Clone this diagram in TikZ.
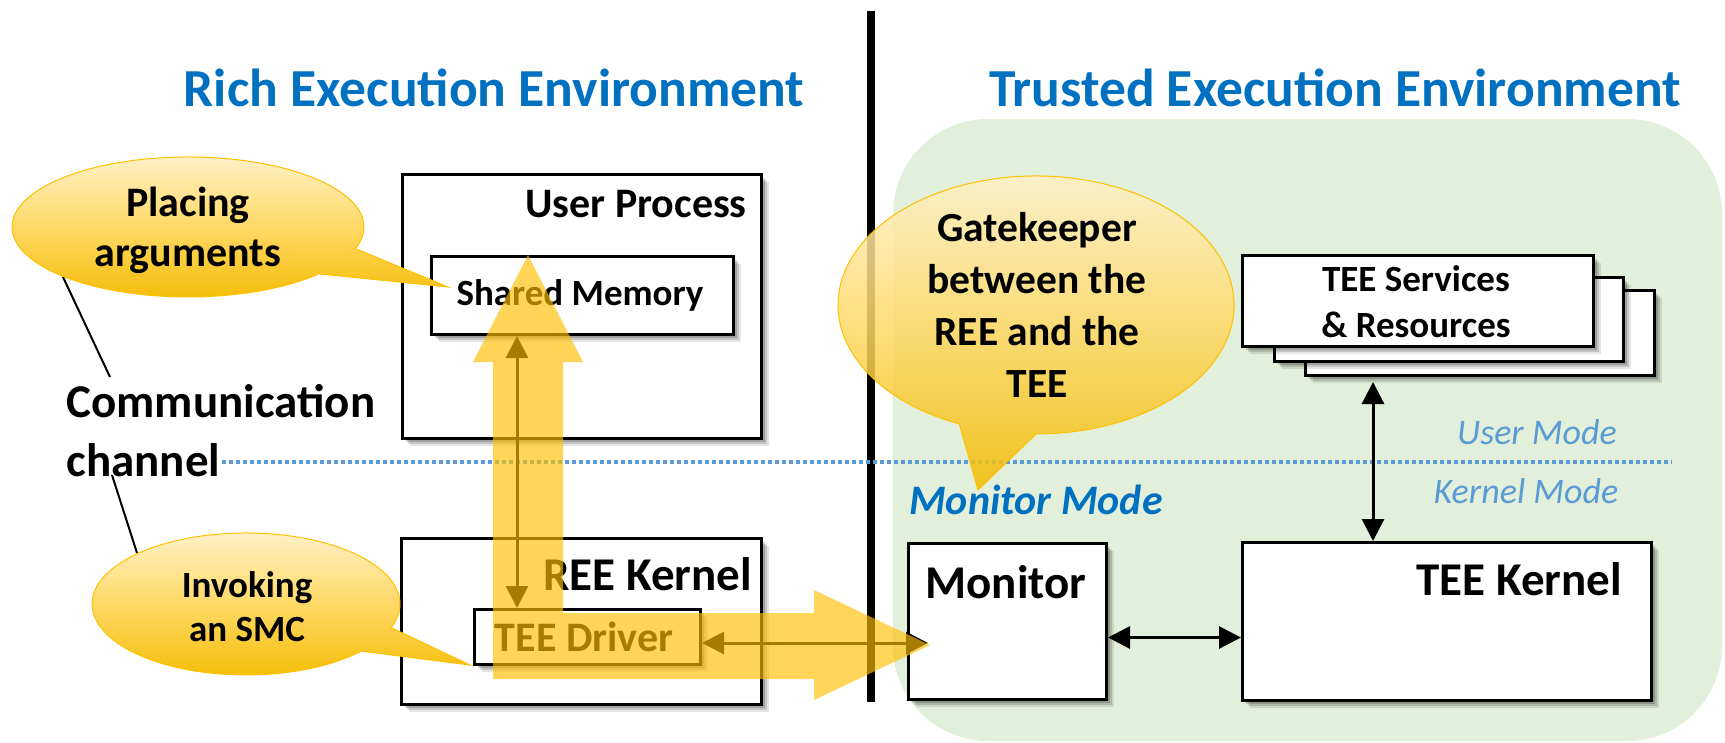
\documentclass[tikz,border=0pt]{standalone}
\usepackage{fontspec}
\setmainfont{Carlito}
\usetikzlibrary{arrows.meta,shadows}
\definecolor{titleblue}{HTML}{0070C0}
\definecolor{modeblue}{HTML}{5B9BD5}
\definecolor{teegreen}{HTML}{E2EFDA}
\definecolor{gold}{HTML}{FFC000}
\definecolor{calltop}{HTML}{FFF3D0}
\definecolor{callmid}{HTML}{FFD966}
\definecolor{callbot}{HTML}{F3BB00}
\begin{document}
\begin{tikzpicture}[x=1pt,y=-1pt,
  box/.style={draw=black, line width=3pt, fill=white, inner sep=0pt, anchor=north west,
    drop shadow={shadow xshift=3pt, shadow yshift=-3pt, opacity=0.18, fill=black},
    drop shadow={shadow xshift=5pt, shadow yshift=-5pt, opacity=0.14, fill=black},
    drop shadow={shadow xshift=7pt, shadow yshift=-7pt, opacity=0.10, fill=black}},
  fs/.style 2 args={font=\fontsize{#1}{#2}\selectfont\bfseries, inner sep=0pt},
  title/.style={font=\fontsize{53.5}{64}\selectfont\bfseries, text=titleblue, inner sep=0pt},
  callout/.style={draw=gold, line width=1pt, top color=calltop, bottom color=callbot, middle color=callmid},
  arr/.style={line width=3pt, {Triangle[length=22pt,width=22pt]}-{Triangle[length=22pt,width=22pt]}},
  thin/.style={line width=2pt, black}
]
\useasboundingbox (0,0) rectangle (1725,742);
% TEE region
\fill[teegreen, rounded corners=95pt] (893,119) rectangle (1722,741);
% separator
\draw[line width=8pt] (871,11) -- (871,702);
% titles
\node[title] (reet) at (494,88) {Rich Execution Environment};
\node[title] (teet) at (1335,88) {Trusted Execution Environment};
% mode separator
\node[fs={47}{59}, align=left] (cc) at (221,431) {Communication\\channel};
\coordinate (dotend) at (1672,462);
\draw[modeblue, line width=4pt, dash pattern=on 4pt off 3pt] (222,462) -- (dotend);
% REE boxes
\node[box, minimum width=359pt, minimum height=264pt] (up) at (401,173) {};
\node[fs={42}{50}, anchor=base east] (upl) at (747,217) {User Process};
\node[box, minimum width=302pt, minimum height=78pt] (sm) at (430,255) {};
\node[fs={37}{44}] (sml) at (580,295) {Shared Memory};
\node[box, minimum width=360pt, minimum height=166pt] (rk) at (400,537) {};
\node[fs={47}{56}, anchor=base east] (rkl) at (752,590) {REE Kernel};
\node[box, minimum width=226pt, minimum height=55pt] (td) at (473,608) {};
\node[fs={42}{50}] (tdl) at (584,637) {TEE Driver};
% TEE boxes
\node[box, minimum width=198pt, minimum height=156pt] (mon) at (907,542) {};
\node[fs={47}{56}, anchor=base] (monl) at (1006,598) {Monitor};
\node[box, minimum width=409pt, minimum height=158pt] (tk) at (1241,541) {};
\node[fs={47}{56}, anchor=base east] (tkl) at (1622,595) {TEE Kernel};
\node[box, minimum width=349pt, minimum height=85pt] (ts3) at (1304,289) {};
\node[box, minimum width=349pt, minimum height=84pt] (ts2) at (1273,276) {};
\node[box, minimum width=351pt, minimum height=91pt] (ts1) at (1241,254) {};
\node[fs={37}{46}, align=center] (tsl) at (1416,302) {TEE Services\\\& Resources};
% mode labels
\node[font=\fontsize{36}{43}\selectfont\itshape, text=modeblue, inner sep=0pt] (um) at (1537,432) {User Mode};
\node[font=\fontsize{36}{43}\selectfont\itshape, text=modeblue, inner sep=0pt] (km) at (1526,491) {Kernel Mode};
\node[font=\fontsize{42}{50}\selectfont\bfseries\itshape, text=titleblue, inner sep=0pt] (mm) at (1036,500) {Monitor Mode};
% thin arrows
\coordinate (vx) at (517,0);
\coordinate (hy) at (0,643);
\coordinate (montip) at (928,643);
\coordinate (tsx) at (1373,0);
\draw[arr] (sm.south -| vx) -- (td.north -| vx);
\draw[arr] (td.east |- hy) -- (montip);
\draw[arr] ([yshift=-16pt]mon.east) -- ([yshift=-16pt]tk.west);
\draw[arr] ([yshift=-5pt]ts3.south -| tsx) -- (tk.north -| tsx);
% big yellow arrow
\fill[gold, fill opacity=0.65] (493,679) -- (493,362) -- (473,362) -- (528,255) -- (583,362) -- (563,362)
  -- (563,613) -- (814,613) -- (814,590) -- (930,645) -- (814,700) -- (814,679) -- cycle;
% callouts
\path[callout] (318.8,273.8) arc[start angle=42, end angle=378, x radius=176, y radius=70] -- (448,287) -- cycle;
\node[fs={42}{50}, align=center] (pa) at (188,230) {Placing\\arguments};
\path[callout] (361.2,651.1) arc[start angle=41.6, end angle=379.5, x radius=154, y radius=71] -- (470,665) -- cycle;
\node[fs={37}{44}, align=center] (is) at (247,607) {Invoking\\an SMC};
\path[callout, fill opacity=0.85] (959.3,423.9) arc[start angle=112.8, end angle=450, x radius=198, y radius=129] -- (978,490) -- cycle;
\node[fs={41.5}{52}, align=center] (gk) at (1037,305) {Gatekeeper\\between the\\REE and the\\TEE};
% leader lines
\coordinate (l1a) at (63,277);
\coordinate (l1b) at (110,377);
\coordinate (l2a) at (112,475);
\coordinate (l2b) at (137,553);
\draw[thin] (l1a) -- (l1b);
\draw[thin] (l2a) -- (l2b);
\end{tikzpicture}
\end{document}
